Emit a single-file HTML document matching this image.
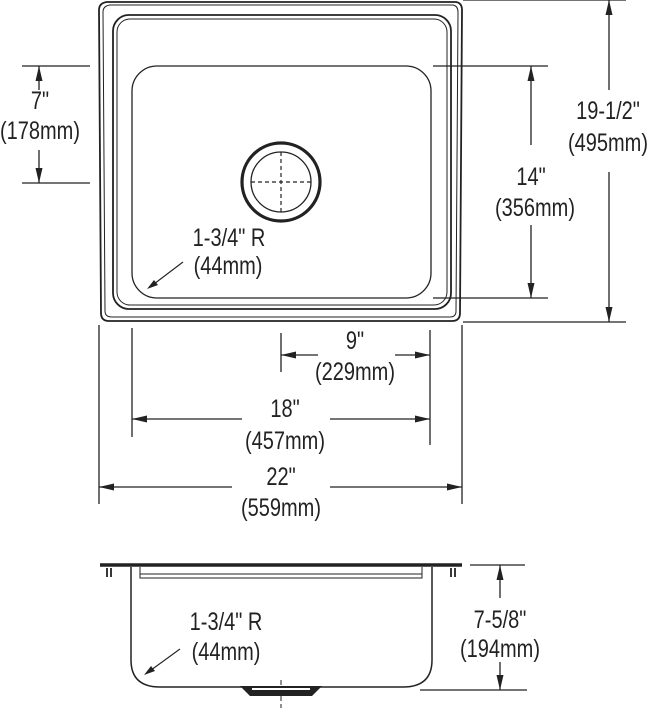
<!DOCTYPE html>
<html><head><meta charset="utf-8"><style>
html,body{margin:0;padding:0;background:#fff;}
svg{display:block;}
text{font-family:"Liberation Sans Narrow","Liberation Sans",sans-serif;font-size:25px;fill:#222;text-anchor:middle;}
</style></head><body>
<svg width="650" height="708" viewBox="0 0 650 708" xmlns="http://www.w3.org/2000/svg">
<g fill="none" stroke="#222">
<path d="M107,2 L456,2 Q462,3 462,10 L460,313 Q460,321 452,321 L109,321 Q101,321 101,313 L99,10 Q99,3 107,2 Z" stroke-width="1.8"/>
<path d="M110,5 L453,5 Q458,6 458,12 L456,311 Q456,317 450,317 L112,317 Q105,317 105,311 L103,12 Q103,6 110,5 Z" stroke-width="1"/>
<rect x="113" y="15" width="338" height="294" rx="16" stroke-width="1.8"/>
<rect x="117" y="19" width="330" height="286" rx="13" stroke-width="1"/>
<rect x="132" y="66" width="299" height="232" rx="25" stroke-width="1.3"/>
<circle cx="281" cy="182" r="39" stroke-width="3.2"/>
<circle cx="281" cy="182" r="30" stroke-width="1.3"/>
<path d="M251,182H311M281,152V212" stroke-width="1.2" stroke-dasharray="4,3"/>
<path d="M22,66H90M22,183H90" stroke-width="1.3"/>
<path d="M39,90V66M39,150V183" stroke-width="1.3"/>
<path d="M433,66H548M433,298H548" stroke-width="1.3"/>
<path d="M531,145V66M531,225V298" stroke-width="1.3"/>
<path d="M463,0H626M463,322H626" stroke-width="1.3"/>
<path d="M609,90V0M609,172V322" stroke-width="1.3"/>
<path d="M281,333V372M430,330V445M132,328V437M99,325V504M462,325V504" stroke-width="1.3"/>
<path d="M318,355H281M395,355H430" stroke-width="1.3"/>
<path d="M242,419H132M330,419H430" stroke-width="1.3"/>
<path d="M232,487H99M330,487H462" stroke-width="1.3"/>
<path d="M183,262L150,287" stroke-width="1.1"/>
<path d="M180,649L147,673" stroke-width="1.1"/>
<path d="M100,565H462" stroke-width="3.5"/>
<path d="M131,567V660Q131,687 160,687L403,687Q432,687 432,660V567" stroke-width="1.5"/>
<path d="M140,567V578H422V567M140,574H422" stroke-width="1"/>
<path d="M281,680V708" stroke-width="1" stroke-dasharray="5,3"/>
<path d="M107,568v9M111,568v9M451,568v9M455,568v9" stroke-width="1.8"/>
<path d="M470,565H525M420,690H527" stroke-width="1.3"/>
<path d="M500,598V565M500,662V690" stroke-width="1.3"/>
</g>
<path d="M240,686L250,696H312L322,686Z" fill="#222"/>
<path d="M252,689H310" stroke="#fff" stroke-width="2"/>
<g fill="#222">
<polygon points="39,66 35.5,81 42.5,81"/><polygon points="39,183 35.5,168 42.5,168"/>
<polygon points="531,66 527.5,81 534.5,81"/><polygon points="531,298 527.5,283 534.5,283"/>
<polygon points="609,0 605.5,15 612.5,15"/><polygon points="609,322 605.5,307 612.5,307"/>
<polygon points="500,565 496.5,580 503.5,580"/><polygon points="500,690 496.5,675 503.5,675"/>
<polygon points="281,355 296,351.5 296,358.5"/><polygon points="430,355 415,351.5 415,358.5"/>
<polygon points="132,419 147,415.5 147,422.5"/><polygon points="430,419 415,415.5 415,422.5"/>
<polygon points="99,487 114,483.5 114,490.5"/><polygon points="462,487 447,483.5 447,490.5"/>
<polygon points="147,289 154,280 158,285"/>
<polygon points="144,675 151,666 155,671"/>
</g>
<g transform="translate(40,109) scale(0.8,1)"><text>7"</text></g>
<g transform="translate(40,139) scale(0.8,1)"><text>(178mm)</text></g>
<g transform="translate(531,185) scale(0.8,1)"><text>14"</text></g>
<g transform="translate(535,216) scale(0.8,1)"><text>(356mm)</text></g>
<g transform="translate(608,119) scale(0.8,1)"><text>19-1/2"</text></g>
<g transform="translate(608,151) scale(0.8,1)"><text>(495mm)</text></g>
<g transform="translate(229,246) scale(0.8,1)"><text>1-3/4" R</text></g>
<g transform="translate(228,274) scale(0.8,1)"><text>(44mm)</text></g>
<g transform="translate(355,349) scale(0.8,1)"><text>9"</text></g>
<g transform="translate(355,380) scale(0.8,1)"><text>(229mm)</text></g>
<g transform="translate(285,417) scale(0.8,1)"><text>18"</text></g>
<g transform="translate(285,449) scale(0.8,1)"><text>(457mm)</text></g>
<g transform="translate(281,485) scale(0.8,1)"><text>22"</text></g>
<g transform="translate(281,516) scale(0.8,1)"><text>(559mm)</text></g>
<g transform="translate(226,630) scale(0.8,1)"><text>1-3/4" R</text></g>
<g transform="translate(226,660) scale(0.8,1)"><text>(44mm)</text></g>
<g transform="translate(500,628) scale(0.8,1)"><text>7-5/8"</text></g>
<g transform="translate(500,657) scale(0.8,1)"><text>(194mm)</text></g>
</svg>
</body></html>
